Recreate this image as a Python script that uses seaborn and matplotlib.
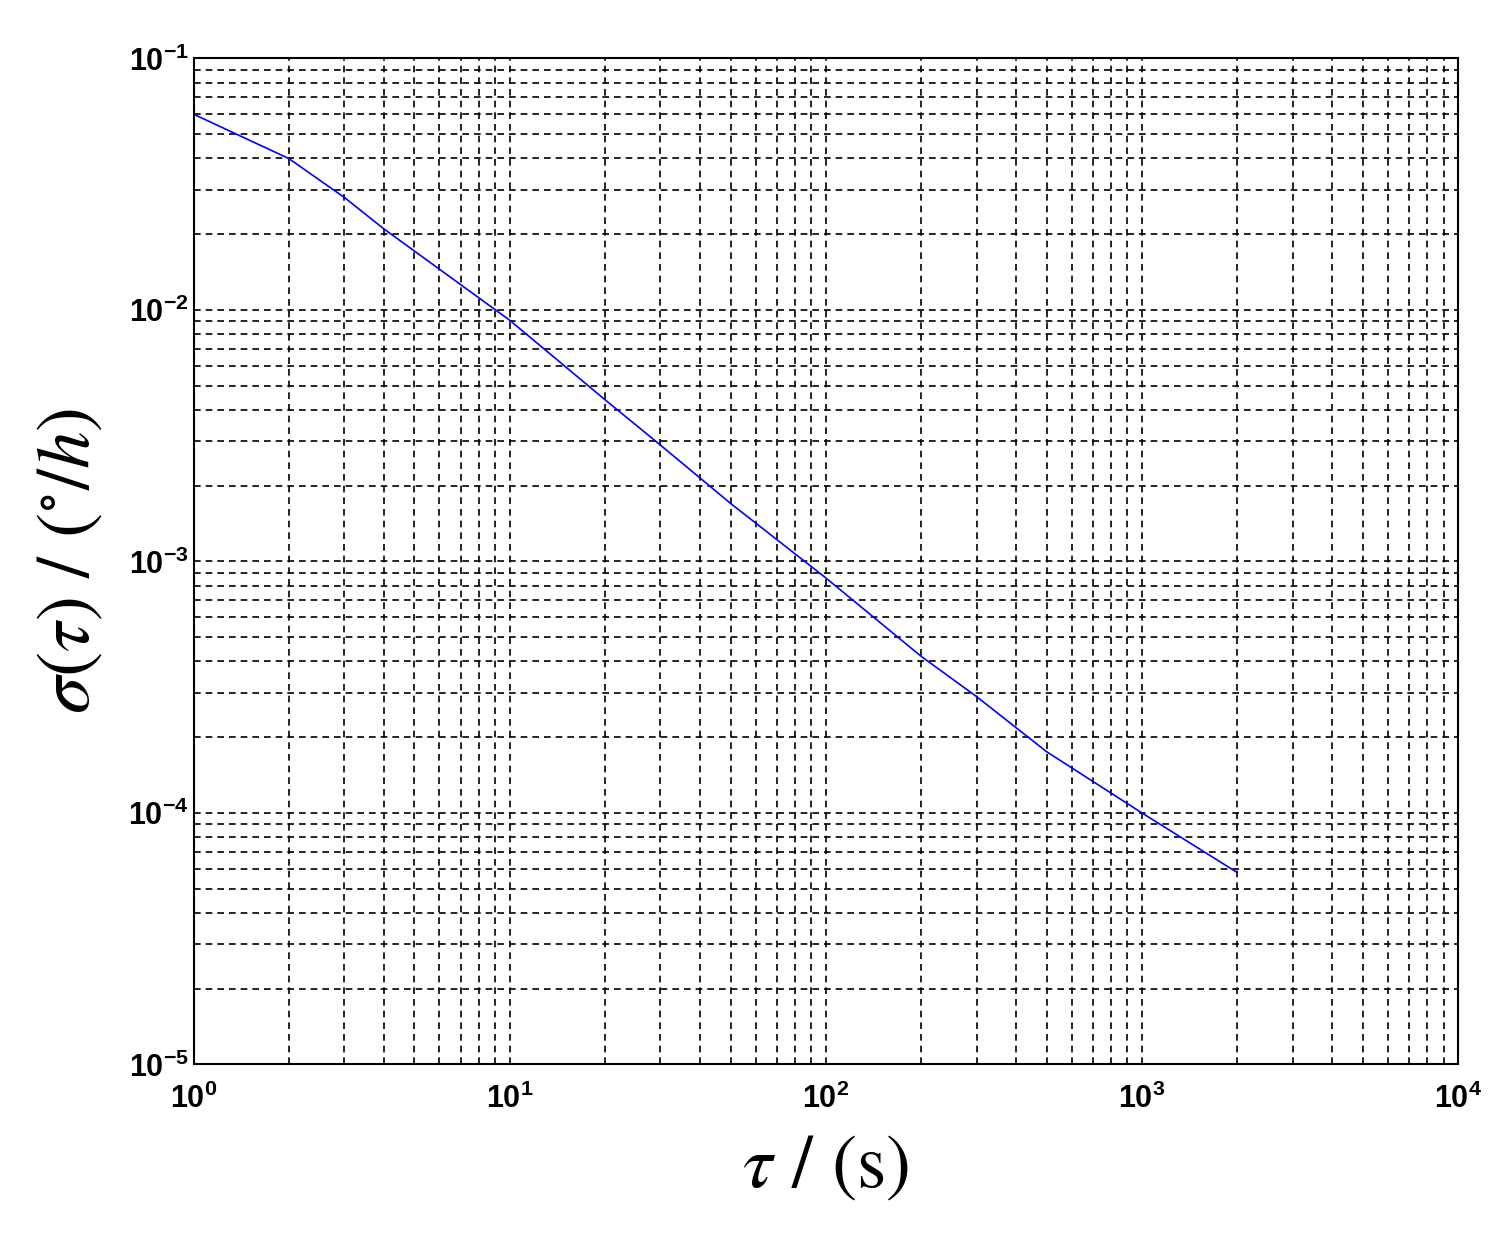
import numpy as np
import matplotlib
matplotlib.use('Agg')
import matplotlib.pyplot as plt
import seaborn as sns

sns.set_theme(style="white")
plt.rcParams['font.family'] = ['Liberation Sans', 'DejaVu Sans']
plt.rcParams['mathtext.fontset'] = 'stix'

# Allan deviation
tau = [1, 2, 3, 4, 10, 20, 30, 50, 100, 200, 300, 500, 1000, 2000]
sigma = [0.06, 0.04, 0.028, 0.021, 0.0091, 0.0044, 0.0029, 0.0017,
         0.00086, 0.00042, 0.00029, 0.000175, 0.0001, 0.000058]

fig, ax = plt.subplots(figsize=(15, 12.42), dpi=100)
fig.subplots_adjust(left=0.129, right=0.972, top=0.953, bottom=0.143)
sns.lineplot(x=tau, y=sigma, ax=ax, color="blue", linewidth=1.2)
ax.set_xscale("log")
ax.set_yscale("log")
ax.set_xlim(1, 1e4)
ax.set_ylim(1e-5, 1e-1)
ax.grid(True, which="both", linestyle=(0, (4, 3)), color="black", linewidth=1.2)
for s in ax.spines.values():
    s.set_color("black")
    s.set_linewidth(1.5)
ax.tick_params(which="both", direction="in", labelsize=22, colors="black")
ax.tick_params(axis="x", pad=14)
for lbl in ax.get_xticklabels() + ax.get_yticklabels():
    lbl.set_fontweight("bold")
ax.set_xlabel(r"$\tau$ / (s)", fontsize=54, family="STIXGeneral", labelpad=14, color="black")
ax.set_ylabel(r"$\sigma(\tau)$ / ($^{\circ}/h$)", fontsize=54, family="STIXGeneral", labelpad=16, color="black")
fig.savefig("out.png", dpi=100)
